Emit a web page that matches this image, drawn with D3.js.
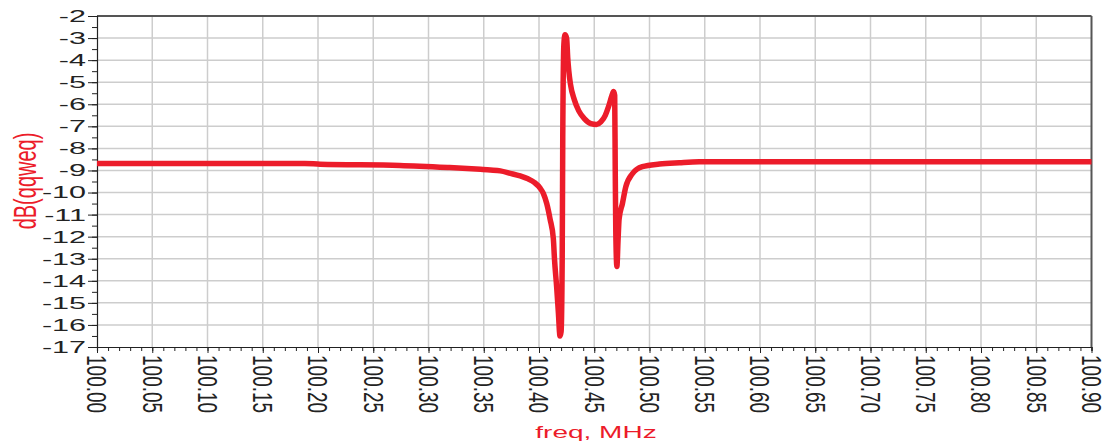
<!DOCTYPE html>
<html>
<head>
<meta charset="utf-8">
<script src="https://cdn.jsdelivr.net/npm/d3@7"></script>
<style>
  html, body { margin: 0; padding: 0; background: #fff; }
  svg { display: block; }
  text { font-family: "Liberation Sans", Arial, Helvetica, sans-serif; }
</style>
</head>
<body>
<svg id="chart" width="1102" height="443"></svg>
<script>
// Frequency sweep (MHz) and response (dB)
const freq = [
  100.000, 100.100, 100.188, 100.202, 100.274, 100.319, 100.347, 100.356,
  100.365, 100.374, 100.383, 100.390, 100.396, 100.401, 100.404, 100.407,
  100.410, 100.413, 100.414, 100.416, 100.4176, 100.4190, 100.4200, 100.4210,
  100.4215, 100.4225, 100.4235, 100.4250, 100.4260, 100.4270, 100.4285,
  100.432, 100.436, 100.441, 100.447, 100.452, 100.456, 100.460, 100.463,
  100.466, 100.4675, 100.4685, 100.469, 100.4695, 100.4705, 100.4715,
  100.4725, 100.4755, 100.4785, 100.4845, 100.4935, 100.509, 100.527,
  100.545, 100.700, 100.900
];
const dB = [
  -8.68, -8.68, -8.68, -8.72, -8.77, -8.87, -8.95, -8.98,
  -9.02, -9.13, -9.25, -9.38, -9.55, -9.80, -10.05, -10.5,
  -11.2, -12.1, -13.0, -14.3, -15.5, -16.5, -16.3, -13.0,
  -7.5, -3.3, -2.85, -3.0, -3.9, -4.5, -5.1,
  -5.8, -6.3, -6.65, -6.88, -6.92, -6.8, -6.5, -6.1,
  -5.6, -5.42, -5.6, -9.0, -11.8, -13.35, -12.2,
  -11.2, -10.5, -9.75, -9.15, -8.83, -8.71, -8.65,
  -8.61, -8.61, -8.61
];

// Axis ticks
const xTicks = d3.range(0, 19).map(i => +(100 + i * 0.05).toFixed(2));
const xMinorTicks = d3.range(0, 91).map(i => +(100 + i * 0.01).toFixed(2));
const yTicks = d3.range(-17, -1, 1);
const yMinorTicks = d3.range(-17, -1.99, 0.5);

const xLabel = "freq, MHz";
const yLabel = "dB(qqweq)";

const red = "#ec1c2a";
const plotLeft = 97, plotRight = 1091.5, plotTop = 16, plotBottom = 347;

const svg = d3.select("#chart");
const x = d3.scaleLinear().domain([100.0, 100.9]).range([plotLeft, plotRight]);
const y = d3.scaleLinear().domain([-17, -2]).range([plotBottom, plotTop]);

// grid
const grid = svg.append("g");
grid.selectAll("line.vg").data(xTicks.slice(1, -1)).join("line")
  .attr("x1", d => x(d)).attr("x2", d => x(d))
  .attr("y1", plotTop).attr("y2", plotBottom)
  .attr("stroke", "#cdcdcd").attr("stroke-width", 1.5);
grid.selectAll("line.hg").data(yTicks.slice(1, -1)).join("line")
  .attr("x1", plotLeft).attr("x2", plotRight)
  .attr("y1", d => y(d)).attr("y2", d => y(d))
  .attr("stroke", "#cdcdcd").attr("stroke-width", 1.5);

// frame top/right
svg.append("line").attr("x1", plotLeft).attr("x2", plotRight).attr("y1", plotTop).attr("y2", plotTop)
  .attr("stroke", "#555").attr("stroke-width", 2);
svg.append("line").attr("x1", plotRight).attr("x2", plotRight).attr("y1", plotTop).attr("y2", plotBottom)
  .attr("stroke", "#555").attr("stroke-width", 2);

// x axis
const xAxis = d3.axisBottom(x).tickValues(xMinorTicks).tickSize(4).tickFormat("");
const gx = svg.append("g").attr("transform", `translate(0,${plotBottom})`).call(xAxis);
gx.select(".domain").attr("stroke", "#222").attr("stroke-width", 1.2);
gx.selectAll(".tick line").attr("stroke", "#222");
const xMajor = d3.axisBottom(x).tickValues(xTicks).tickSize(6).tickFormat("");
const gx2 = svg.append("g").attr("transform", `translate(0,${plotBottom})`).call(xMajor);
gx2.select(".domain").remove();
gx2.selectAll(".tick line").attr("stroke", "#222");

svg.append("g").selectAll("text").data(xTicks).join("text")
  .attr("transform", d => `translate(${x(d)},355) scale(1.45,1) rotate(90)`)
  .attr("dy", "0.35em")
  .attr("font-size", 19)
  .attr("fill", "#222")
  .attr("text-anchor", "start")
  .text(d => d.toFixed(2));

// y axis
const yAxis = d3.axisLeft(y).tickValues(yMinorTicks).tickSize(5).tickFormat("");
const gy = svg.append("g").attr("transform", `translate(${plotLeft},0)`).call(yAxis);
gy.select(".domain").attr("stroke", "#222").attr("stroke-width", 1.2);
gy.selectAll(".tick line").attr("stroke", "#222");
const yMajor = d3.axisLeft(y).tickValues(yTicks).tickSize(9).tickFormat("");
const gy2 = svg.append("g").attr("transform", `translate(${plotLeft},0)`).call(yMajor);
gy2.select(".domain").remove();
gy2.selectAll(".tick line").attr("stroke", "#222");

svg.append("g").selectAll("text").data(yTicks).join("text")
  .attr("transform", d => `translate(86,${y(d)}) scale(1.85,1)`)
  .attr("dy", "0.36em")
  .attr("font-size", 16.5)
  .attr("fill", "#222")
  .attr("text-anchor", "end")
  .text(d => d);

// axis titles
svg.append("text")
  .attr("transform", "translate(25,181) scale(1.6,1) rotate(-90)")
  .attr("dy", "0.35em")
  .attr("text-anchor", "middle")
  .attr("font-size", 20)
  .attr("fill", red)
  .text(yLabel);
svg.append("text")
  .attr("transform", "translate(596,438) scale(1.75,1)")
  .attr("text-anchor", "middle")
  .attr("font-size", 16)
  .attr("fill", red)
  .text(xLabel);

// response curve
const line = d3.line()
  .x((d, i) => x(freq[i]))
  .y(d => y(d))
  .curve(d3.curveMonotoneX);
svg.append("path")
  .datum(dB)
  .attr("d", line)
  .attr("fill", "none")
  .attr("stroke", red)
  .attr("stroke-width", 5.5)
  .attr("stroke-linejoin", "round");
</script>
</body>
</html>
